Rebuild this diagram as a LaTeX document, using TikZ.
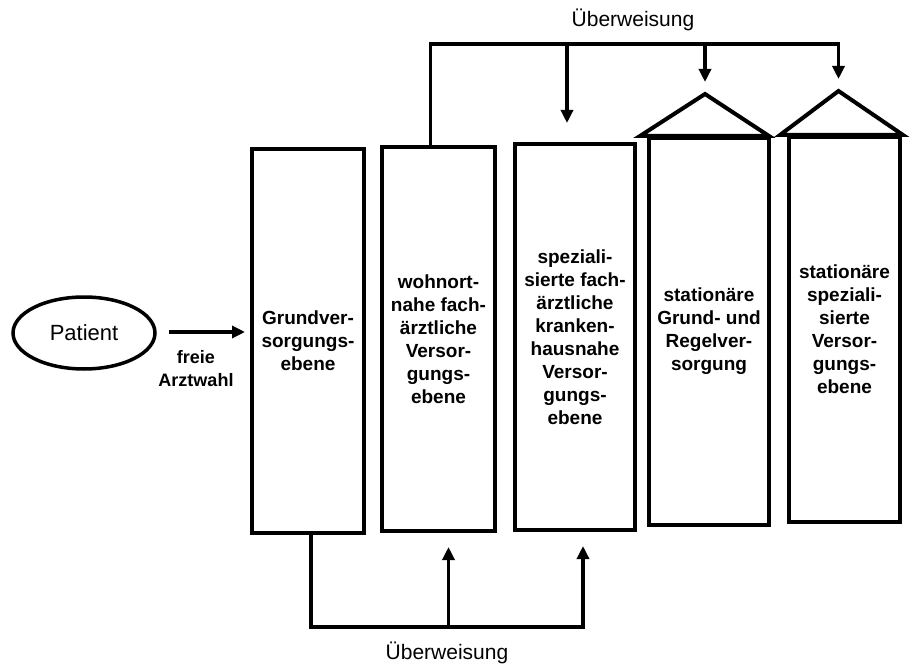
\documentclass[tikz,border=0pt]{standalone}
\usepackage{fontspec}
\setmainfont{Liberation Sans}
\usetikzlibrary{arrows.meta,calc,shapes.geometric}
\tikzset{
  level/.style={draw=black, line width=4pt, inner sep=0pt, align=center,
    font=\bfseries\fontsize{19}{23}\selectfont},
  conn/.style={draw=black, line width=3.4pt, line join=miter},
  arr/.style={conn, -{Triangle[length=13pt,width=12pt]}},
  roof/.style={draw=black, line width=4pt, line join=miter},
  lbl/.style={inner sep=0pt, font=\fontsize{21}{24}\selectfont},
  boldlbl/.style={inner sep=0pt, align=center, font=\bfseries\fontsize{18}{23}\selectfont}
}
\begin{document}
\begin{tikzpicture}[x=1pt,y=-1pt]
\useasboundingbox (0,0) rectangle (910,671);

% levels
\node[level, minimum width=112pt, minimum height=384pt] (b1) at (308,341)
  {Grundver-\\sorgungs-\\ebene};
\node[level, minimum width=113pt, minimum height=384pt] (b2) at (438.5,339)
  {wohnort-\\nahe fach-\\ärztliche\\Versor-\\gungs-\\ebene};
\node[level, minimum width=120pt, minimum height=386pt] (b3) at (575,337)
  {speziali-\\sierte fach-\\ärztliche\\kranken-\\hausnahe\\Versor-\\gungs-\\ebene};
\node[level, minimum width=120pt, minimum height=387pt] (b4) at (709,331.5)
  {stationäre\\Grund- und\\Regelver-\\sorgung};
\node[level, minimum width=111pt, minimum height=385pt] (b5) at (844.5,329.5)
  {stationäre\\speziali-\\sierte\\Versor-\\gungs-\\ebene};

% roofs
\coordinate (r4) at ($(b4.north)+(-4,-42)$);
\coordinate (r5) at ($(b5.north)+(-6,-44)$);
\draw[roof] ($(b4.north west)+(-7,0)$) -- (r4) -- ($(b4.north east)+(-2,0)$) -- cycle;
\draw[roof] ($(b5.north west)+(-7,0)$) -- (r5) -- ($(b5.north east)+(1,0)$) -- cycle;

% patient
\node[draw=black, line width=3.5pt, ellipse, minimum width=142pt, minimum height=72pt,
  inner sep=0pt, font=\fontsize{22}{24}\selectfont] (pat) at (84,333) {Patient};
\coordinate (pa) at ($(pat.east)+(12,-1)$);
\coordinate (pb) at ($(b1.west)+(-5,-9)$);
\draw[arr] (pa) -- (pb);
\node[boldlbl] (fa) at (196,369) {freie\\Arztwahl};

% top referral
\coordinate (top) at (0,44);
\coordinate (t2) at ($(b2.north)+(-8,0)$);
\coordinate (t3) at ($(b3.north)+(-8,0)$);
\coordinate (e3) at ($(b3.north)+(-8,-19)$);
\coordinate (e4) at ($(r4)+(0,-12)$);
\coordinate (e5) at ($(r5)+(0,-12)$);
\node[lbl] (ut) at (633,20) {Überweisung};
\draw[arr] (t2) -- (t2 |- top) -- (e5 |- top) -- (e5);
\draw[arr] (t3 |- top) -- (e3);
\draw[arr] (e4 |- top) -- (e4);

% bottom referral
\coordinate (bot) at (0,627);
\coordinate (s1) at ($(b1.south)+(3,0)$);
\coordinate (s2) at ($(b2.south)+(10,14)$);
\coordinate (s3) at ($(b3.south)+(8,14)$);
\node[lbl] (ub) at (447,653) {Überweisung};
\draw[arr] (s1) -- (s1 |- bot) -- (s3 |- bot) -- (s3);
\draw[arr] (s2 |- bot) -- (s2);
\end{tikzpicture}
\end{document}
